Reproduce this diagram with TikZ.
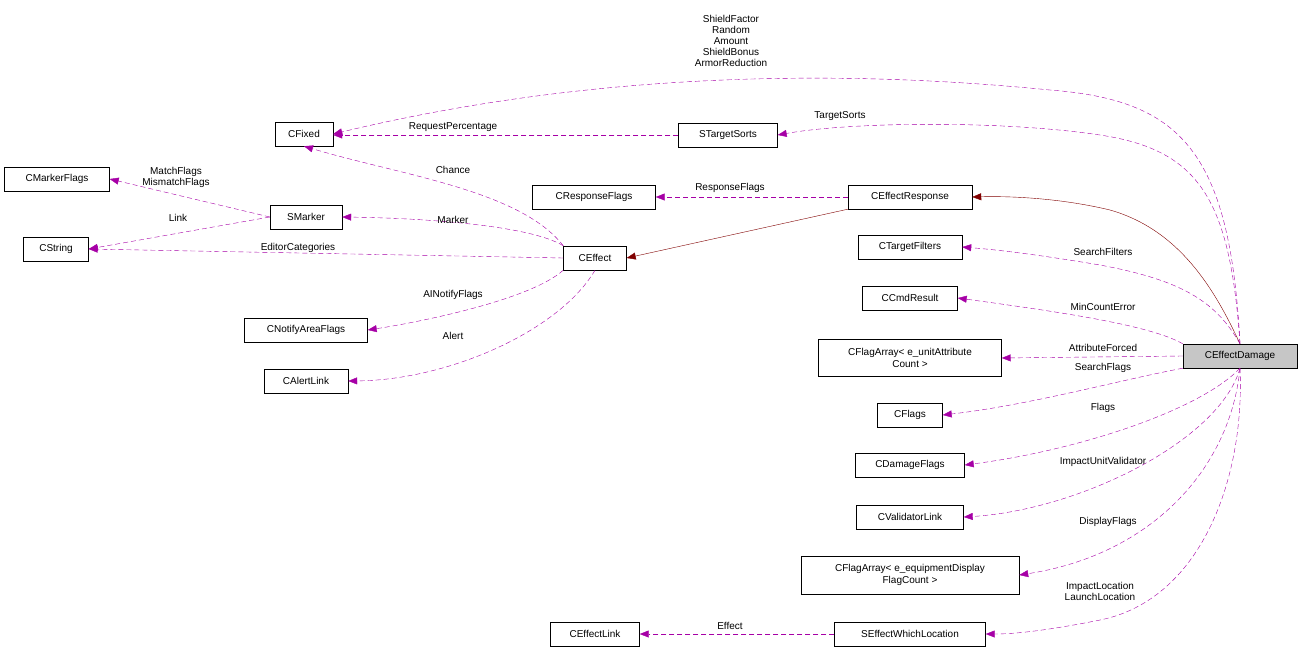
\documentclass[tikz,border=0pt]{standalone}
\usepackage{fontspec}
\setmainfont{Liberation Sans}
\usetikzlibrary{arrows.meta}
\begin{document}
\begin{tikzpicture}[x=1pt,y=-1pt,
  every node/.style={font=\fontsize{10}{12}\selectfont},
  box/.style={draw=black,fill=white,inner sep=0pt,minimum height=24pt,align=center},
  use/.style={draw=violet!70!magenta,dashed,dash pattern=on 5pt off 3pt,-{Triangle[length=9pt,width=7pt]},fill=none},
  inh/.style={draw=red!50!black,-{Triangle[length=9pt,width=7pt,fill=red!50!black]}},
  lbl/.style={align=center,inner sep=1pt,font=\fontsize{10}{11}\selectfont}]
\useasboundingbox (0,0) rectangle (1301,654);
\node[box,minimum width=58pt] (fixed) at (304,134) {CFixed};
\node[box,minimum width=99pt] (sts) at (728,135) {STargetSorts};
\node[box,minimum width=105pt] (mflags) at (57,179) {CMarkerFlags};
\node[box,minimum width=65pt] (str) at (56,249) {CString};
\node[box,minimum width=72pt] (smarker) at (306,217) {SMarker};
\node[box,minimum width=123pt] (rflags) at (594,197) {CResponseFlags};
\node[box,minimum width=124pt] (eresp) at (910,197) {CEffectResponse};
\node[box,minimum width=63pt] (effect) at (595,258) {CEffect};
\node[box,minimum width=104pt] (tfilt) at (910,247) {CTargetFilters};
\node[box,minimum width=95pt] (cmd) at (910,298) {CCmdResult};
\node[box,minimum width=123pt] (notify) at (306,330) {CNotifyAreaFlags};
\node[box,minimum width=183pt,minimum height=37pt] (fa1) at (910,358) {CFlagArray< e\_unitAttribute\\Count >};
\node[box,minimum width=114pt,fill=gray!45] (dmg) at (1240,356) {CEffectDamage};
\node[box,minimum width=84pt] (alert) at (306,381) {CAlertLink};
\node[box,minimum width=65pt] (flags) at (910,415) {CFlags};
\node[box,minimum width=109pt] (dflags) at (910,465) {CDamageFlags};
\node[box,minimum width=107pt] (vlink) at (910,517) {CValidatorLink};
\node[box,minimum width=218pt,minimum height=38pt] (fa2) at (910,575) {CFlagArray< e\_equipmentDisplay\\FlagCount >};
\node[box,minimum width=89pt] (elink) at (595,634) {CEffectLink};
\node[box,minimum width=151pt] (sewl) at (910,634) {SEffectWhichLocation};

% inheritance
\draw[inh] (dmg.north) .. controls (1215,290) and (1180,230) .. (1110,210) .. controls (1060,198) and (1010,196) .. (eresp.east);
\draw[inh] (eresp.south west) -- (effect.east);

% usage from CEffectDamage
\draw[use] (dmg.north) .. controls (1230,150) and (1180,100) .. (1050,90) .. controls (850,70) and (600,70) .. (fixed.east);
\draw[use] (dmg.north) .. controls (1230,200) and (1200,150) .. (1100,135) .. controls (1000,120) and (850,122) .. (sts.east);
\draw[use] (dmg.north) .. controls (1215,300) and (1180,280) .. (1100,265) .. controls (1040,255) and (1000,250) .. (tfilt.east);
\draw[use] (dmg.north west) .. controls (1150,325) and (1060,312) .. (cmd.east);
\draw[use] (dmg.west) -- (fa1.east);
\draw[use] (dmg.south west) .. controls (1120,380) and (1030,405) .. (flags.east);
\draw[use] (dmg.south) .. controls (1200,410) and (1080,450) .. (dflags.east);
\draw[use] (dmg.south) .. controls (1220,440) and (1080,510) .. (vlink.east);
\draw[use] (dmg.south) .. controls (1230,470) and (1150,555) .. (fa2.east);
\draw[use] (dmg.south) .. controls (1245,480) and (1200,600) .. (1100,620) .. controls (1040,632) and (1010,634) .. (sewl.east);

\draw[use] (sts.west) -- (fixed.east |- sts.west);
\draw[use] (smarker.west) -- (mflags.east);
\draw[use] (smarker.west) -- (str.east);
\draw[use] (effect.west) -- (str.east);
\draw[use] (effect.north west) .. controls (530,225) and (420,218) .. (smarker.east);
\draw[use] (effect.north west) .. controls (520,190) and (400,175) .. (fixed.south);
\draw[use] (effect.south west) .. controls (530,300) and (420,322) .. (notify.east);
\draw[use] (effect.south) .. controls (560,330) and (450,380) .. (alert.east);
\draw[use] (eresp.west) -- (rflags.east);
\draw[use] (sewl.west) -- (elink.east);

% labels
\node[lbl] at (731,41) {ShieldFactor\\Random\\Amount\\ShieldBonus\\ArmorReduction};
\node[lbl] at (840,116) {TargetSorts};
\node[lbl] at (453,127) {RequestPercentage};
\node[lbl] at (176,177) {MatchFlags\\MismatchFlags};
\node[lbl] at (178,218) {Link};
\node[lbl] at (298,248) {EditorCategories};
\node[lbl] at (453,220) {Marker};
\node[lbl] at (453,170) {Chance};
\node[lbl] at (453,295) {AINotifyFlags};
\node[lbl] at (453,336) {Alert};
\node[lbl] at (730,188) {ResponseFlags};
\node[lbl] at (1103,252) {SearchFilters};
\node[lbl] at (1103,307) {MinCountError};
\node[lbl] at (1103,348) {AttributeForced};
\node[lbl] at (1103,368) {SearchFlags};
\node[lbl] at (1103,408) {Flags};
\node[lbl] at (1103,462) {ImpactUnitValidator};
\node[lbl] at (1108,522) {DisplayFlags};
\node[lbl] at (1100,591) {ImpactLocation\\LaunchLocation};
\node[lbl] at (730,626) {Effect};
\end{tikzpicture}
\end{document}
